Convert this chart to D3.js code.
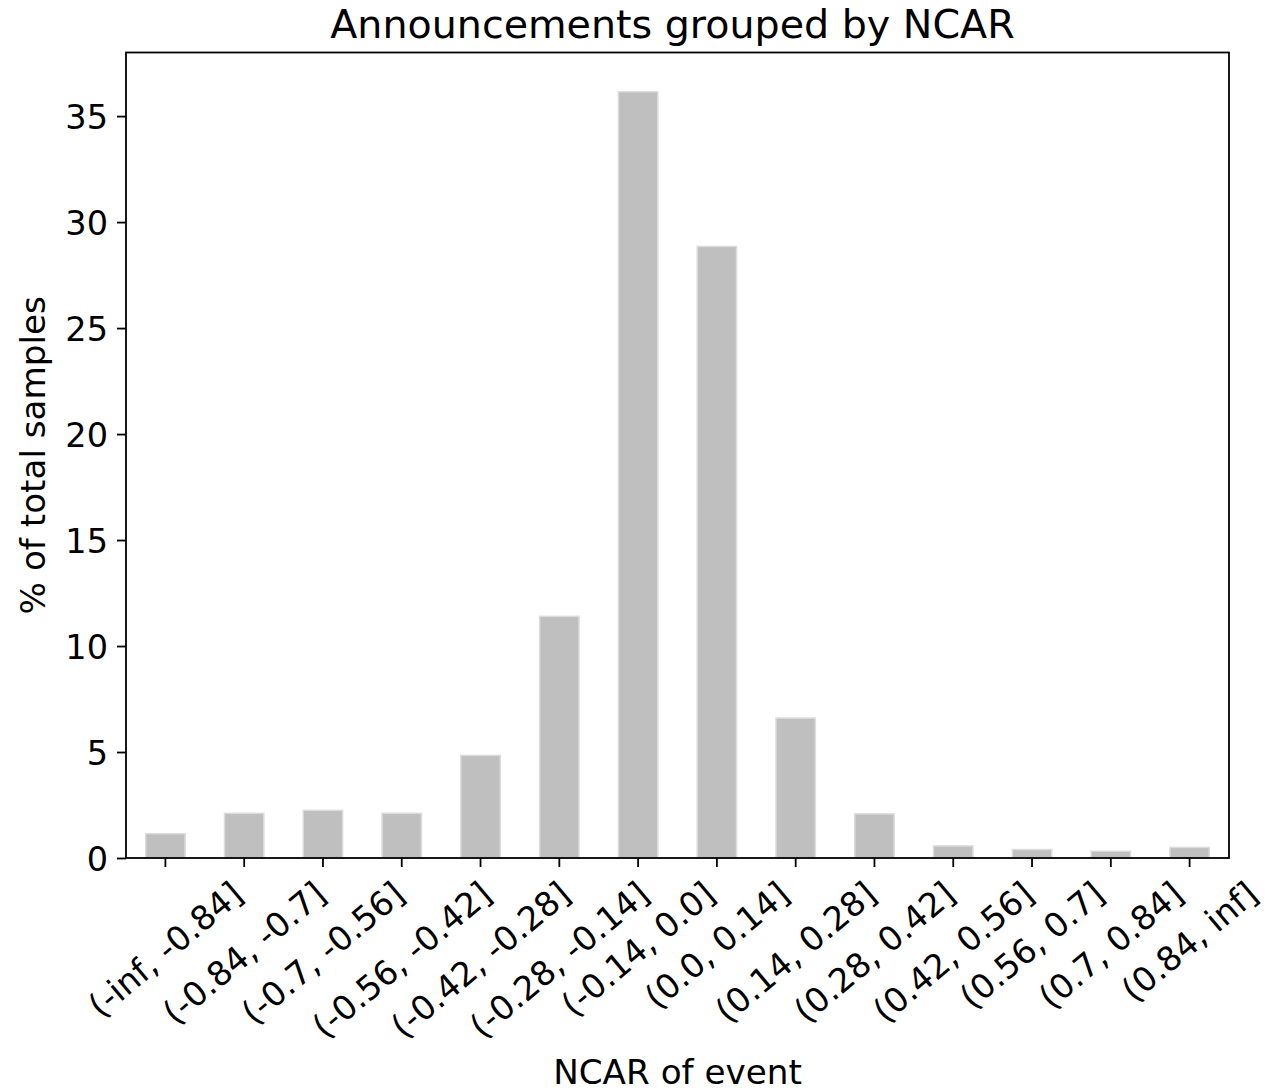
<!DOCTYPE html>
<html>
<head>
<meta charset="utf-8">
<script src="https://cdn.jsdelivr.net/npm/d3@7"></script>
<style>
  body { margin: 0; background: #fff; }
  svg { display: block; }
  text { font-family: "DejaVu Sans", sans-serif; fill: #000; }
</style>
</head>
<body>
<svg id="chart" width="1269" height="1091"></svg>
<script>
const categories = ["(-inf, -0.84]", "(-0.84, -0.7]", "(-0.7, -0.56]", "(-0.56, -0.42]",
  "(-0.42, -0.28]", "(-0.28, -0.14]", "(-0.14, 0.0]", "(0.0, 0.14]", "(0.14, 0.28]",
  "(0.28, 0.42]", "(0.42, 0.56]", "(0.56, 0.7]", "(0.7, 0.84]", "(0.84, inf]"];
const values = [1.15, 2.11, 2.25, 2.11, 4.84, 11.4, 36.15, 28.85, 6.6, 2.08, 0.57, 0.40, 0.32, 0.50];
const yTicks = [0, 5, 10, 15, 20, 25, 30, 35];
const titleText = "Announcements grouped by NCAR";
const xLabel = "NCAR of event";
const yLabel = "% of total samples";

const svg = d3.select("#chart");
const L = 126, R = 1229, T = 52.5, B = 858;
const fs = 33.5;
const rot = 40;

const x = d3.scaleBand().domain(categories).range([L, R]).paddingInner(0.5).paddingOuter(0.25);
const y = d3.scaleLinear().domain([0, 38]).range([B, T]);

// bars
svg.append("g").selectAll("rect").data(values).join("rect")
  .attr("x", (d, i) => x(categories[i]))
  .attr("y", d => y(d))
  .attr("width", x.bandwidth())
  .attr("height", d => B - y(d))
  .attr("fill", "#bfbfbf")
  .attr("stroke", "#dcdcdc")
  .attr("stroke-width", 1.5);

// y axis
const ya = svg.append("g").attr("transform", `translate(${L},0)`)
  .call(d3.axisLeft(y).tickValues(yTicks).tickSize(9).tickPadding(9).tickFormat(d3.format("d")));
ya.select(".domain").remove();
ya.selectAll(".tick line").attr("stroke", "#000").attr("stroke-width", 1.8);
ya.selectAll(".tick text").attr("font-size", fs).attr("font-family", "DejaVu Sans").attr("dy", "0.36em");

// x axis
const a = rot * Math.PI / 180;
const xa = svg.append("g").attr("transform", `translate(0,${B})`)
  .call(d3.axisBottom(x).tickSize(9).tickPadding(0));
xa.select(".domain").remove();
xa.selectAll(".tick line").attr("stroke", "#000").attr("stroke-width", 1.8);
xa.selectAll(".tick text").each(function() {
  const t = d3.select(this);
  t.attr("font-size", fs).attr("font-family", "DejaVu Sans").attr("y", null).attr("dy", null);
  const w = this.getComputedTextLength();
  const h = 1.164 * fs;
  const cy = 16 + (w * Math.sin(a) + h * Math.cos(a)) / 2;
  t.attr("text-anchor", "middle")
   .attr("transform", `translate(0,${cy}) rotate(${-rot})`)
   .attr("dy", (0.346 * fs) + "px");
});

// frame
svg.append("rect").attr("x", L).attr("y", T).attr("width", R - L).attr("height", B - T)
  .attr("fill", "none").attr("stroke", "#000").attr("stroke-width", 1.8);

// title
svg.append("text").attr("x", (L + R) / 2 - 5).attr("y", 38)
  .attr("text-anchor", "middle").attr("font-size", 39.6).text(titleText);

// x label
svg.append("text").attr("x", (L + R) / 2).attr("y", 1084)
  .attr("text-anchor", "middle").attr("font-size", 34.2).text(xLabel);

// y label
svg.append("text").attr("transform", `translate(45,${(T + B) / 2}) rotate(-90)`)
  .attr("text-anchor", "middle").attr("font-size", 34.2).text(yLabel);
</script>
</body>
</html>
